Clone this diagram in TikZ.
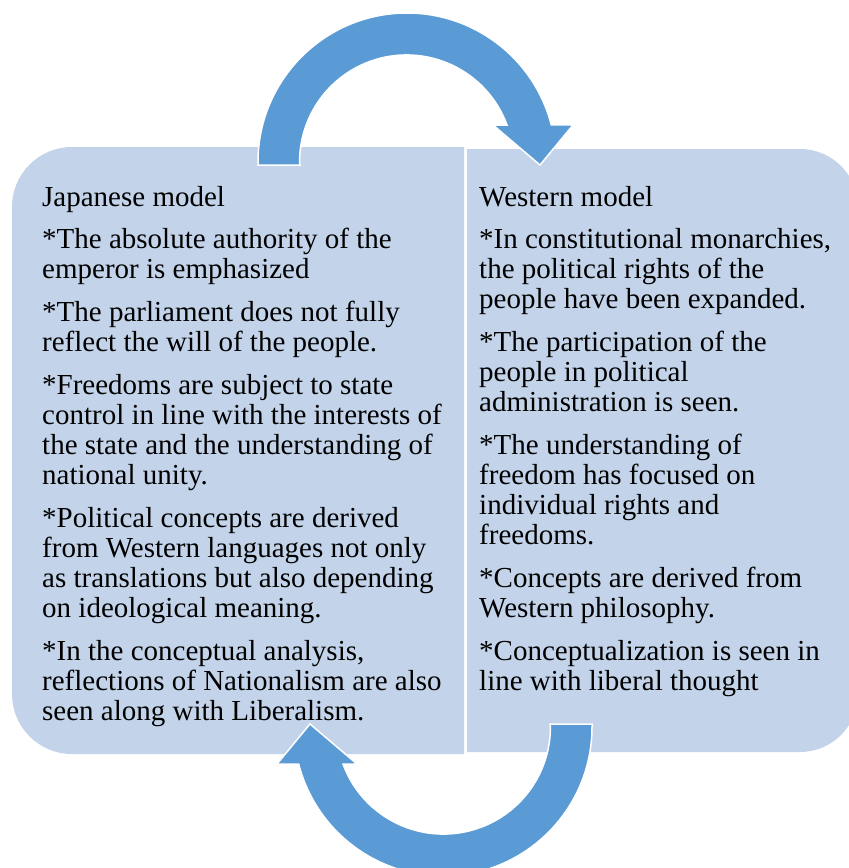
\documentclass[tikz,border=0pt]{standalone}
\usepackage{fontspec}
\setmainfont{Liberation Serif}
\definecolor{boxfill}{HTML}{C3D4EA}
\definecolor{arrowblue}{HTML}{5B9BD5}
\begin{document}
\begin{tikzpicture}[x=1pt,y=-1pt,
  panel/.style={fill=boxfill},
  cyclearrow/.style={fill=arrowblue,draw=white,line width=1.5pt,line join=miter},
  txt/.style={anchor=base west,inner sep=0pt,font=\fontsize{29}{30}\selectfont,text=black}]
\useasboundingbox (0,0) rectangle (849,868);
\clip (0,0) rectangle (849,868);
% panels
\fill[panel] (464,147) -- (72,147) arc[start angle=270,end angle=180,radius=60]
  -- (12,694) arc[start angle=180,end angle=90,radius=60] -- (464,754) -- cycle;
\fill[panel] (467,149) -- (800,149) arc[start angle=270,end angle=360,radius=58]
  -- (858,694) arc[start angle=0,end angle=90,radius=58] -- (467,752) -- cycle;
% left text
\foreach \yy/\t [count=\i] in {
  206/{Japanese model},
  248/{*The absolute authority of the},
  278/{emperor is emphasized},
  321/{*The parliament does not fully},
  351/{reflect the will of the people.},
  394/{*Freedoms are subject to state},
  424/{control in line with the interests of},
  454/{the state and the understanding of},
  484/{national unity.},
  527/{*Political concepts are derived},
  557/{from Western languages not only},
  587/{as translations but also depending},
  617/{on ideological meaning.},
  660/{*In the conceptual analysis,},
  690/{reflections of Nationalism are also},
  720/{seen along with Liberalism.}}
  \node[txt] (L\i) at (42,\yy) {\t};
% right text
\foreach \yy/\t [count=\i] in {
  206/{Western model},
  248/{*In constitutional monarchies,},
  278/{the political rights of the},
  308/{people have been expanded.},
  351/{*The participation of the},
  381/{people in political},
  411/{administration is seen.},
  454/{*The understanding of},
  484/{freedom has focused on},
  514/{individual rights and},
  544/{freedoms.},
  587/{*Concepts are derived from},
  617/{Western philosophy.},
  660/{*Conceptualization is seen in},
  690/{line with liberal thought}}
  \node[txt] (R\i) at (479,\yy) {\t};
% top circular arrow
\filldraw[cyclearrow] (258,165) -- (258,162) arc[start angle=180,end angle=345.6,radius=149]
  -- (573,125) -- (540,165) -- (493,125) -- (507,125)
  arc[start angle=339.8,end angle=180,radius=107] -- (300,165) -- cycle;
% bottom circular arrow (point reflection of the top one)
\begin{scope}[rotate around={180:(425,444.5)}]
\filldraw[cyclearrow] (258,165) -- (258,162) arc[start angle=180,end angle=345.6,radius=149]
  -- (573,125) -- (540,165) -- (493,125) -- (507,125)
  arc[start angle=339.8,end angle=180,radius=107] -- (300,165) -- cycle;
\end{scope}
\end{tikzpicture}
\end{document}
